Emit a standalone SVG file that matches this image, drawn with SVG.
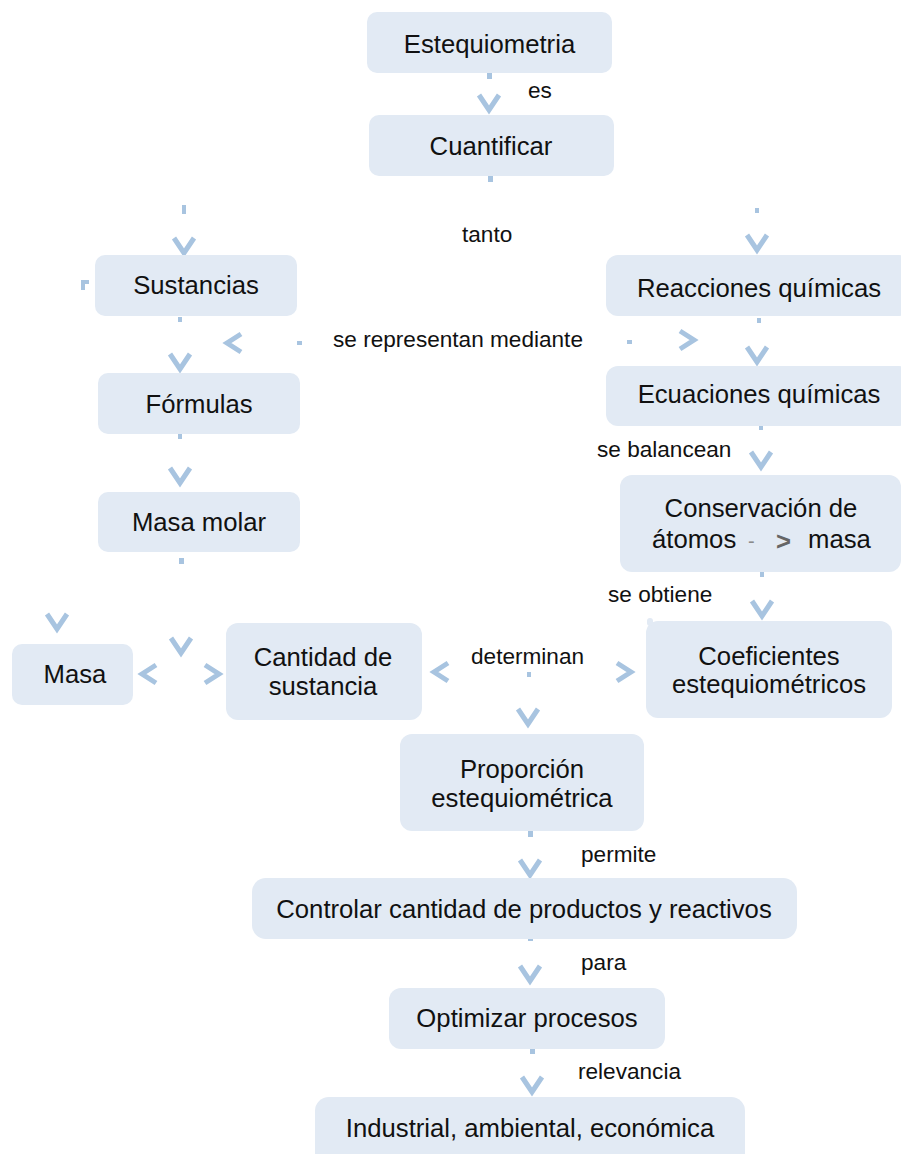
<svg xmlns="http://www.w3.org/2000/svg" xmlns:xlink="http://www.w3.org/1999/xlink" width="901" height="1154" viewBox="0 0 901 1154">
<defs>
<style>
.n{fill:#e2eaf4;}
.t{font-family:"Liberation Sans",Arial,sans-serif;font-size:25.7px;fill:#111;text-anchor:middle;}
.l{font-family:"Liberation Sans",Arial,sans-serif;font-size:22.6px;fill:#111;}
.c{fill:none;stroke:#a8c4e0;stroke-width:5;stroke-linejoin:miter;stroke-linecap:butt;}
.d{fill:#a8c4e0;}
</style>
<path id="vd" class="c" d="M-10,-19 L0,-4 L10,-19"/>
<path id="vl" class="c" d="M18,-9 L4,0 L18,9"/>
<path id="vr" class="c" d="M-18,-9 L-4,0 L-18,9"/>
</defs>
<rect width="901" height="1154" fill="#ffffff"/>

<g id="connectors">
<rect class="d" x="487" y="73" width="5" height="6"/>
<use xlink:href="#vd" x="489" y="114"/>
<rect class="d" x="488" y="176" width="5" height="6"/>
<rect class="d" x="182" y="205" width="4" height="9"/>
<use xlink:href="#vd" x="184" y="257"/>
<path class="c" d="M83,290 V282 H89" style="stroke-width:4"/>
<rect class="d" x="755" y="208" width="4" height="5"/>
<use xlink:href="#vd" x="757" y="254"/>
<rect class="d" x="178" y="317" width="4" height="5"/>
<use xlink:href="#vl" x="223" y="343"/>
<rect class="d" x="297" y="341" width="5" height="4"/>
<use xlink:href="#vd" x="180" y="373"/>
<rect class="d" x="627" y="340" width="5" height="4"/>
<use xlink:href="#vr" x="698" y="340"/>
<rect class="d" x="757" y="318" width="4" height="5"/>
<use xlink:href="#vd" x="757" y="366"/>
<rect class="d" x="178" y="434" width="4" height="5"/>
<use xlink:href="#vd" x="180" y="487"/>
<rect class="d" x="759" y="425" width="4" height="5"/>
<use xlink:href="#vd" x="761" y="471"/>
<rect class="d" x="179" y="558" width="5" height="6"/>
<use xlink:href="#vd" x="57" y="633"/>
<use xlink:href="#vd" x="181" y="657"/>
<use xlink:href="#vl" x="138" y="674"/>
<use xlink:href="#vr" x="223" y="674"/>
<rect class="d" x="760" y="572" width="4" height="5"/>
<use xlink:href="#vd" x="762" y="620"/>
<use xlink:href="#vl" x="430" y="672"/>
<rect class="d" x="527" y="672" width="4" height="5"/>
<use xlink:href="#vr" x="635" y="672"/>
<use xlink:href="#vd" x="528" y="728"/>
<rect class="d" x="528" y="831" width="5" height="6"/>
<use xlink:href="#vd" x="530" y="879"/>
<rect class="d" x="528" y="936" width="5" height="5"/>
<use xlink:href="#vd" x="530" y="985"/>
<rect class="d" x="530" y="1049" width="5" height="5"/>
<use xlink:href="#vd" x="532" y="1096"/>
</g>

<g id="edge-labels">
<text class="l" x="528" y="98">es</text>
<text class="l" x="462" y="242">tanto</text>
<text class="l" x="333" y="347">se representan mediante</text>
<text class="l" x="597" y="457">se balancean</text>
<text class="l" x="608" y="602">se obtiene</text>
<text class="l" x="471" y="664">determinan</text>
<text class="l" x="581" y="862">permite</text>
<text class="l" x="581" y="970">para</text>
<text class="l" x="578" y="1079">relevancia</text>
</g>

<g id="n-estequiometria"><rect class="n" x="367" y="12" width="245" height="61" rx="10"/><text class="t" x="489.5" y="53">Estequiometria</text></g>
<g id="n-cuantificar"><rect class="n" x="369" y="115" width="245" height="61" rx="10"/><text class="t" x="491" y="155">Cuantificar</text></g>
<g id="n-sustancias"><rect class="n" x="95" y="255" width="202" height="61" rx="10"/><text class="t" x="196" y="294">Sustancias</text></g>
<g id="n-reacciones"><rect class="n" x="606" y="255" width="305" height="61" rx="12"/><text class="t" x="759" y="297">Reacciones químicas</text></g>
<g id="n-formulas"><rect class="n" x="98" y="373" width="202" height="61" rx="10"/><text class="t" x="199" y="413">Fórmulas</text></g>
<g id="n-ecuaciones"><rect class="n" x="606" y="366" width="305" height="60" rx="12"/><text class="t" x="759" y="403">Ecuaciones químicas</text></g>
<g id="n-masamolar"><rect class="n" x="98" y="492" width="202" height="60" rx="10"/><text class="t" x="199" y="531">Masa molar</text></g>
<g id="n-conservacion"><rect class="n" x="620" y="475" width="281" height="97" rx="12"/><text class="t" x="761" y="517">Conservación de</text><text class="t" style="text-anchor:start" x="652" y="548">átomos</text><text class="t" style="text-anchor:start;fill:#8a8a8a;font-size:20px" x="748" y="548">-</text><text class="t" style="text-anchor:start;fill:#666;font-weight:bold" x="776" y="550">&gt;</text><text class="t" style="text-anchor:start" x="808" y="548">masa</text></g>
<g id="n-masa"><rect class="n" x="12" y="644" width="121" height="61" rx="10"/><text class="t" x="75" y="683">Masa</text></g>
<g id="n-cantidad"><rect class="n" x="226" y="623" width="196" height="97" rx="12"/><text class="t" x="323" y="666">Cantidad de</text><text class="t" x="323" y="695">sustancia</text></g>
<g id="n-coeficientes"><rect class="n" x="646" y="621" width="246" height="97" rx="12"/><rect class="n" x="647" y="618" width="6" height="8" rx="3"/><text class="t" x="769" y="665">Coeficientes</text><text class="t" x="769" y="693">estequiométricos</text></g>
<g id="n-proporcion"><rect class="n" x="400" y="734" width="244" height="97" rx="12"/><text class="t" x="522" y="778">Proporción</text><text class="t" x="522" y="807">estequiométrica</text></g>
<g id="n-controlar"><rect class="n" x="252" y="878" width="545" height="61" rx="14"/><text class="t" x="524" y="918">Controlar cantidad de productos y reactivos</text></g>
<g id="n-optimizar"><rect class="n" x="389" y="988" width="276" height="61" rx="12"/><text class="t" x="527" y="1027">Optimizar procesos</text></g>
<g id="n-industrial"><rect class="n" x="315" y="1097" width="430" height="70" rx="14"/><text class="t" x="530" y="1137">Industrial, ambiental, económica</text></g>
</svg>
